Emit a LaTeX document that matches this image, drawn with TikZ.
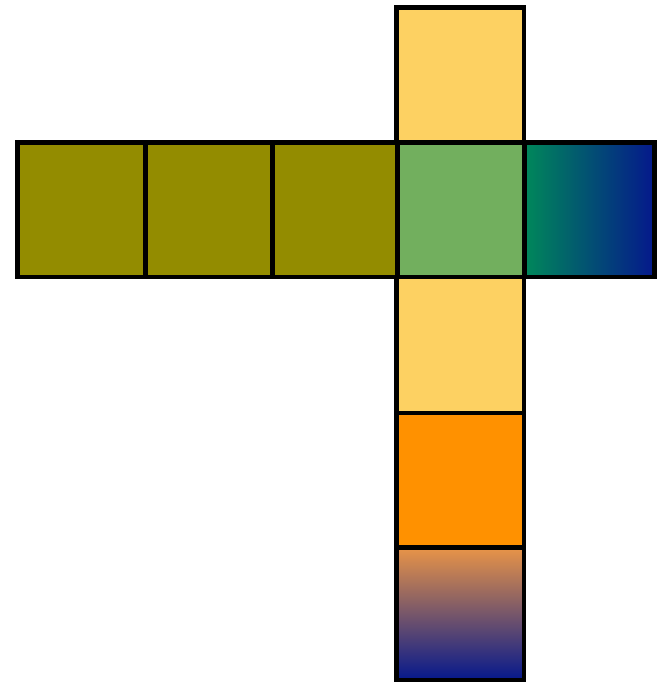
\documentclass[tikz,border=0pt]{standalone}
\usepackage{tikz}

\definecolor{olivebox}{RGB}{147,140,0}
\definecolor{greenbox}{RGB}{114,175,94}
\definecolor{sandbox}{RGB}{253,209,98}
\definecolor{orangebox}{RGB}{255,145,0}
\definecolor{tealend}{RGB}{0,136,90}
\definecolor{navyend}{RGB}{5,24,140}
\definecolor{peachend}{RGB}{232,148,72}

\tikzset{every picture/.style={line width=0.75pt}}
\tikzset{cell/.style={draw=black, line width=3.4pt, line join=miter}}

\begin{document}
\begin{tikzpicture}[x=0.75pt,y=0.75pt,yscale=-1,xscale=1]
\useasboundingbox (0,0) rectangle (657,683);

%Shape: Rectangle (centre)
\draw [cell, draw={rgb,255:red,60;green,60;blue,60}, fill=greenbox] (397.5,142.5) rectangle (524.5,277) ;

%Shape: Rectangle (row, left)
\draw [cell, fill=olivebox] (17.5,142.5) rectangle (145.5,277) ;
\draw [cell, fill=olivebox] (145.5,142.5) rectangle (272.5,277) ;
\draw [cell, fill=olivebox] (272.5,142.5) rectangle (397.5,277) ;

%Shape: Rectangle (row, right)
\draw [cell, left color=tealend, right color=navyend] (524.5,142.5) rectangle (654.5,277) ;

%Shape: Rectangle (column, top)
\draw [cell, fill=sandbox] (396.5,7.5) rectangle (524,142.5) ;

%Shape: Rectangle (column, below)
\draw [cell, fill=sandbox] (396.5,277) rectangle (524,413) ;
\draw [cell, fill=orangebox] (396.5,413) rectangle (524,547.5) ;
\draw [cell, top color=peachend, bottom color=navyend] (396.5,547.5) rectangle (524,680) ;

\end{tikzpicture}
\end{document}
